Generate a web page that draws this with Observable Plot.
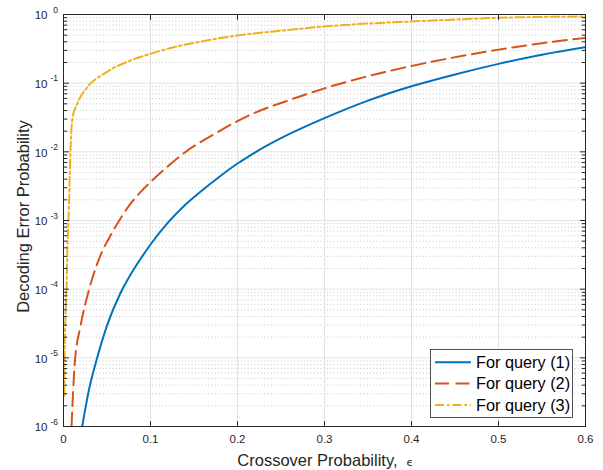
<!DOCTYPE html>
<html><head><meta charset="utf-8">
<script src="https://cdn.jsdelivr.net/npm/d3@7"></script>
<script src="https://cdn.jsdelivr.net/npm/@observablehq/plot@0.6"></script>
<style>body{margin:0;background:#fff;}</style>
</head><body><div id="chart"></div>
<script>
const seriesNames = ["For query (1)", "For query (2)", "For query (3)"];
const seriesColors = ["#0072BD", "#D95319", "#EDB120"];

const q1Eps = [0.0215, 0.029, 0.0387, 0.05, 0.065, 0.077, 0.0885, 0.1, 0.12, 0.14, 0.156, 0.18, 0.20, 0.22, 0.25, 0.30, 0.35, 0.40, 0.45, 0.50, 0.55, 0.60];
const q1Err = [1.0e-6, 3.3e-6, 1.0e-5, 2.95e-5, 8.5e-5, 1.62e-4, 2.75e-4, 4.47e-4, 9.3e-4, 1.7e-3, 2.54e-3, 4.42e-3, 6.76e-3, 9.77e-3, 1.58e-2, 3.09e-2, 5.56e-2, 9.0e-2, 0.134, 0.191, 0.26, 0.334];

const q2Eps = [0.0092, 0.013, 0.0195, 0.0291, 0.0445, 0.054, 0.0636, 0.075, 0.0885, 0.1, 0.1115, 0.1383, 0.1766, 0.2149, 0.2609, 0.2992, 0.3376, 0.3759, 0.4372, 0.50, 0.55, 0.60];
const q2Err = [1.0e-6, 8.5e-6, 2.88e-5, 9.55e-5, 3.55e-4, 6.03e-4, 9.77e-4, 1.62e-3, 2.59e-3, 3.63e-3, 4.95e-3, 9.55e-3, 1.92e-2, 3.47e-2, 5.75e-2, 8.34e-2, 0.115, 0.152, 0.222, 0.308, 0.382, 0.457];

const q3Eps = [0.001, 0.0013, 0.0022, 0.0035, 0.0045, 0.0057, 0.0069, 0.008, 0.0088, 0.0105, 0.0157, 0.0272, 0.0464, 0.077, 0.1, 0.1268, 0.1575, 0.1996, 0.2609, 0.2992, 0.3989, 0.4448, 0.50, 0.60];
const q3Err = [2.8e-6, 1.0e-5, 4.0e-5, 1.0e-4, 4.0e-4, 1.0e-3, 3.2e-3, 1.0e-2, 1.8e-2, 3.2e-2, 5.0e-2, 8.7e-2, 0.137, 0.214, 0.268, 0.334, 0.403, 0.494, 0.60, 0.668, 0.791, 0.838, 0.895, 0.935];

const xTicks = [0, 0.1, 0.2, 0.3, 0.4, 0.5, 0.6];
const xTickLabels = ["0", "0.1", "0.2", "0.3", "0.4", "0.5", "0.6"];
const yTicks = [1e-6, 1e-5, 1e-4, 1e-3, 1e-2, 1e-1, 1];
const yTickExponents = ["-6", "-5", "-4", "-3", "-2", "-1", "0"];
const yMinorMultipliers = [2, 3, 4, 5, 6, 7, 8, 9];

const xLabel = "Crossover Probability,";
const xLabelSymbol = "ϵ";
const yLabel = "Decoding Error Probability";

const yMinor = yTicks.slice(0, -1).flatMap(d => yMinorMultipliers.map(m => d * m));
const toRows = (eps, err) => eps.map((e, i) => ({eps: e, err: err[i]}));
const rows = [toRows(q1Eps, q1Err), toRows(q2Eps, q2Err), toRows(q3Eps, q3Err)];
const dashes = [null, "14,6.5", "9,3,2.5,3"];

const font = "'Liberation Sans', Arial, Helvetica, sans-serif";
const axisColor = "#262626";
const tickShape = {draw(ctx, l) { ctx.moveTo(0, 0); ctx.lineTo(0, -l); }};

const plot = Plot.plot({
  width: 603, height: 470,
  marginLeft: 63, marginRight: 18, marginTop: 14, marginBottom: 44,
  style: {fontFamily: font, background: "#fff", color: axisColor},
  x: {domain: [0, 0.6]},
  y: {type: "log", domain: [1e-6, 1]},
  marks: [
    Plot.ruleY(yMinor, {stroke: "#c2c2c2", strokeDasharray: "1,2.3", strokeWidth: 0.9}),
    Plot.ruleX(xTicks, {stroke: "#e2e2e2", strokeWidth: 1}),
    Plot.ruleY(yTicks, {stroke: "#e2e2e2", strokeWidth: 1}),
    ...rows.map((r, i) => Plot.line(r, {
      x: "eps", y: "err", stroke: seriesColors[i], strokeWidth: 2,
      strokeDasharray: dashes[i], curve: "monotone-x", clip: true
    })),
    Plot.frame({stroke: axisColor, strokeWidth: 1}),
    Plot.vector(xTicks, {x: d => d, frameAnchor: "bottom", length: 5, rotate: 0, anchor: "start", shape: tickShape, stroke: axisColor, strokeWidth: 1}),
    Plot.vector(xTicks, {x: d => d, frameAnchor: "top", length: 5, rotate: 180, anchor: "start", shape: tickShape, stroke: axisColor, strokeWidth: 1}),
    Plot.vector(yTicks, {y: d => d, frameAnchor: "left", length: 5, rotate: 90, anchor: "start", shape: tickShape, stroke: axisColor, strokeWidth: 1}),
    Plot.vector(yTicks, {y: d => d, frameAnchor: "right", length: 5, rotate: -90, anchor: "start", shape: tickShape, stroke: axisColor, strokeWidth: 1}),
    Plot.vector(yMinor, {y: d => d, frameAnchor: "left", length: 3.3, rotate: 90, anchor: "start", shape: tickShape, stroke: axisColor, strokeWidth: 1}),
    Plot.vector(yMinor, {y: d => d, frameAnchor: "right", length: 3.3, rotate: -90, anchor: "start", shape: tickShape, stroke: axisColor, strokeWidth: 1}),
    Plot.axisX(xTicks, {anchor: "bottom", tickSize: 0, tickPadding: 8, fontSize: 11.5, label: null,
      tickFormat: d => xTickLabels[xTicks.indexOf(d)]}),
    Plot.axisY(yTicks, {anchor: "left", tickSize: 0, tickPadding: 16, fontSize: 11.5, label: null, dy: 1,
      tickFormat: () => "10"}),
    Plot.text(yTicks, {y: d => d, frameAnchor: "left", text: (d, i) => yTickExponents[i],
      textAnchor: "end", lineAnchor: "middle", dx: -5.5, dy: -4.5, fontSize: 8.5, fill: axisColor}),
    Plot.text([xLabel], {frameAnchor: "bottom", text: d => d, textAnchor: "end", lineAnchor: "bottom",
      dx: 73, dy: 39, fontSize: 16.5, fill: axisColor}),
    Plot.text([xLabelSymbol], {frameAnchor: "bottom", text: d => d, textAnchor: "start", lineAnchor: "bottom",
      dx: 82, dy: 39, fontSize: 11, fontFamily: "'DejaVu Sans', sans-serif", fill: axisColor}),
    Plot.text([yLabel], {frameAnchor: "left", text: d => d, rotate: -90, textAnchor: "middle", lineAnchor: "bottom",
      dx: -35, dy: -4, fontSize: 16.5, fill: axisColor})
  ]
});

// legend (inside the axes, lower right)
const svg = d3.select(plot);
const lg = svg.append("g").attr("font-family", font).attr("text-anchor", "start");
lg.append("rect").attr("x", 430.5).attr("y", 349.5).attr("width", 142).attr("height", 68)
  .attr("fill", "#fff").attr("stroke", axisColor).attr("stroke-width", 0.8);
const rowY = [362.3, 383.6, 405];
seriesNames.forEach((name, i) => {
  lg.append("line").attr("x1", 435).attr("x2", 471).attr("y1", rowY[i]).attr("y2", rowY[i])
    .attr("stroke", seriesColors[i]).attr("stroke-width", 2)
    .attr("stroke-dasharray", dashes[i]);
  lg.append("text").attr("x", 476).attr("y", rowY[i]).attr("dy", "0.35em")
    .attr("text-anchor", "start")
    .attr("font-size", 16.3).attr("fill", "#000").text(name);
});

document.getElementById("chart").append(plot);
</script>
</body></html>
